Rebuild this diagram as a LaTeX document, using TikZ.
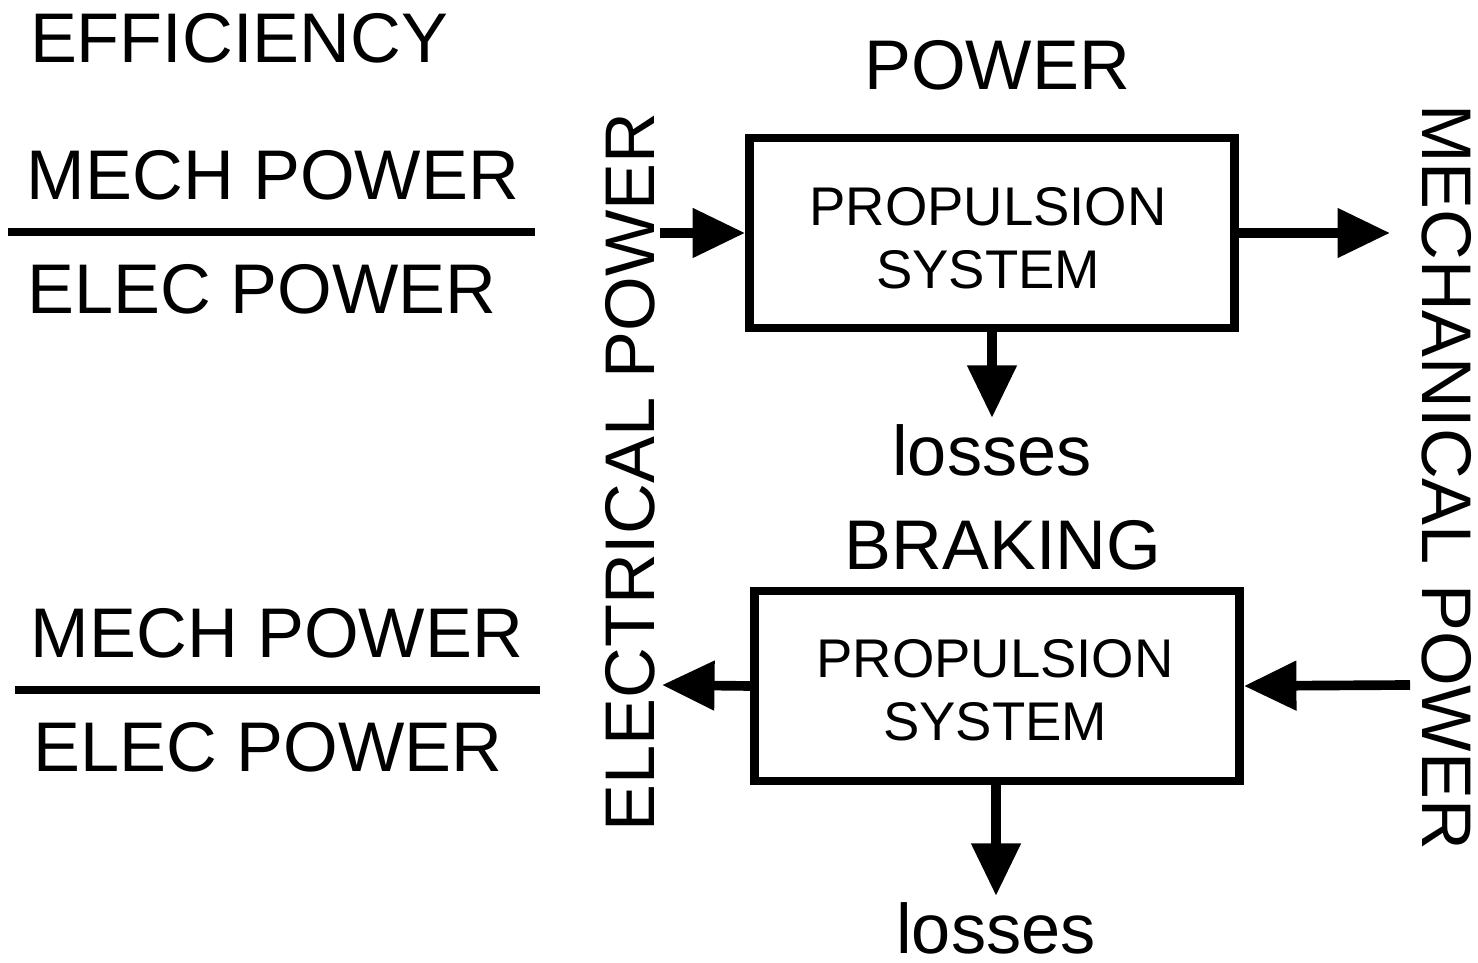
\documentclass[tikz,border=0pt]{standalone}
\usepackage{fontspec}
\setmainfont{Liberation Sans}
\usetikzlibrary{positioning}
\usetikzlibrary{arrows.meta}

\begin{document}
\begin{tikzpicture}[
    big/.style={font=\fontsize{40}{40}\selectfont, inner sep=0pt},
    boxtext/.style={font=\fontsize{31}{36}\selectfont, align=center},
    sysbox/.style={draw, line width=5pt, minimum width=9.7cm, minimum height=3.8cm, inner sep=0pt},
    flow/.style={line width=5.5pt, -{Triangle[length=1.05cm,width=0.95cm]}},
    bar/.style={line width=5pt}
  ]
    \useasboundingbox (0,0) rectangle (29.56,19.26);

    % efficiency side
    \node[big] (eff) at (4.78, 18.5) {EFFICIENCY};
    \node[big] (mech1) at (5.46, 15.76) {MECH POWER};
    \node[big] (elec1) at (5.24, 13.48) {ELEC POWER};
    \draw[bar] (0.16, 14.62) -- (10.7, 14.62);
    \node[big] (mech2) at (5.54, 6.6) {MECH POWER};
    \node[big] (elec2) at (5.36, 4.32) {ELEC POWER};
    \draw[bar] (0.3, 5.46) -- (10.8, 5.46);

    % side labels
    \node[big, rotate=90] (elecpow) at (12.6, 9.82) {ELECTRICAL POWER};
    \node[big, rotate=-90] (mechpow) at (28.94, 9.72) {MECHANICAL POWER};

    % power mode
    \node[big] (power) at (19.94, 17.96) {POWER};
    \node[sysbox] (box1) at (19.84, 14.6) {};
    \node[boxtext] (sys1) at (19.76, 14.5) {PROPULSION\\SYSTEM};
    \node[big] (loss1) at (19.84, 10.26) {losses};
    \coordinate (in1) at (13.2, 14.6);
    \coordinate (out1) at (27.8, 14.6);

    \draw[flow] (in1) -- (box1.west);
    \draw[flow] (box1.east) -- (out1);
    \draw[flow] (box1.south -| loss1.north) -- ([yshift=0.12cm]loss1.north);

    % braking mode
    \node[big] (brake) at (20.06, 8.36) {BRAKING};
    \node[sysbox] (box2) at (19.94, 5.54) {};
    \node[boxtext] (sys2) at (19.9, 5.46) {PROPULSION\\SYSTEM};
    \node[big] (loss2) at (19.92, 0.7) {losses};
    \coordinate (in2) at (28.2, 5.56);
    \coordinate (out2) at (13.24, 5.56);

    \draw[flow] (in2) -- (box2.east);
    \draw[flow] (box2.west) -- (out2);
    \draw[flow] (box2.south -| loss2.north) -- ([yshift=0.12cm]loss2.north);
\end{tikzpicture}
\end{document}
